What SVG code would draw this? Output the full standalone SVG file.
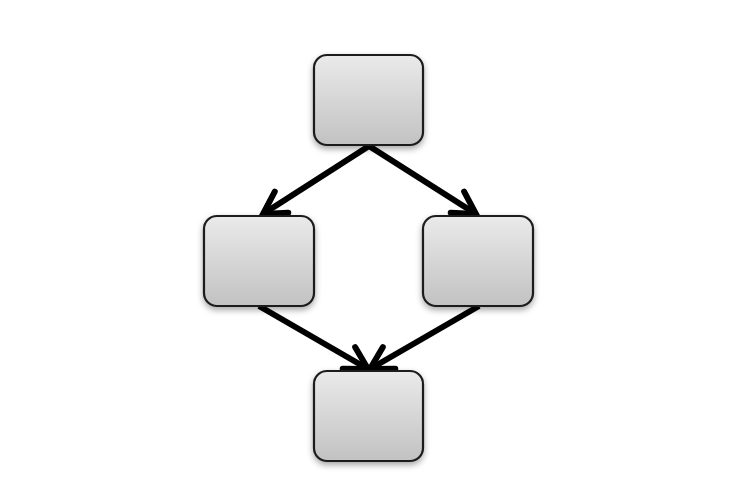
<svg xmlns="http://www.w3.org/2000/svg" width="755" height="494" viewBox="0 0 755 494">
  <defs>
    <linearGradient id="boxGrad" x1="0" y1="0" x2="0" y2="1">
      <stop offset="0" stop-color="#eaeaea"/>
      <stop offset="1" stop-color="#c2c2c2"/>
    </linearGradient>
    <filter id="shadow" x="-20%" y="-20%" width="140%" height="150%">
      <feDropShadow dx="0" dy="3" stdDeviation="3" flood-color="#000" flood-opacity="0.35"/>
    </filter>
    <marker id="arrow" markerUnits="userSpaceOnUse" markerWidth="40" markerHeight="40" viewBox="-30 -20 40 40" refX="0" refY="0" orient="auto">
      <path d="M -22,-12.5 L 0,0 L -22,12.5" fill="none" stroke="#000" stroke-width="6" stroke-linecap="round" stroke-linejoin="miter"/>
    </marker>
    <style>
      .box { fill: url(#boxGrad); stroke: #1e1e1e; stroke-width: 2.2; filter: url(#shadow); }
      .edge { stroke: #000; stroke-width: 6; fill: none; marker-end: url(#arrow); }
    </style>
  </defs>
  <rect width="755" height="494" fill="#ffffff"/>
  <g id="connectors">
    <line class="edge" x1="369" y1="146" x2="263" y2="214"/>
    <line class="edge" x1="369" y1="146" x2="476" y2="214"/>
    <line class="edge" x1="259" y1="306" x2="368" y2="369"/>
    <line class="edge" x1="479" y1="306" x2="370" y2="369"/>
  </g>
  <g id="node-top">
    <rect class="box" x="314" y="55" width="109" height="90" rx="13"/>
  </g>
  <g id="node-left">
    <rect class="box" x="204" y="216" width="110" height="90" rx="13"/>
  </g>
  <g id="node-right">
    <rect class="box" x="423" y="216" width="110" height="90" rx="13"/>
  </g>
  <g id="node-bottom">
    <rect class="box" x="314" y="371" width="109" height="90" rx="13"/>
  </g>
</svg>
